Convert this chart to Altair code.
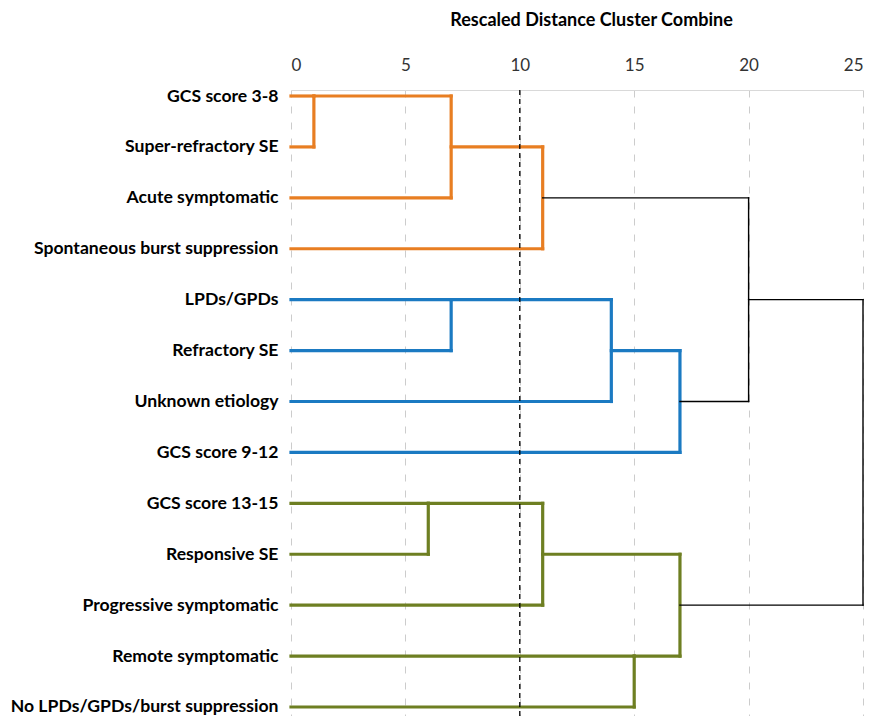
import altair as alt
import pandas as pd

# ---- data ----
leaf_names = [
    "GCS score 3-8",
    "Super-refractory SE",
    "Acute symptomatic",
    "Spontaneous burst suppression",
    "LPDs/GPDs",
    "Refractory SE",
    "Unknown etiology",
    "GCS score 9-12",
    "GCS score 13-15",
    "Responsive SE",
    "Progressive symptomatic",
    "Remote symptomatic",
    "No LPDs/GPDs/burst suppression",
]
# merges: node ids 0..12 are leaves, merge k creates node 13+k
merge_left = [0, 13, 14, 4, 16, 17, 15, 8, 20, 11, 21, 19]
merge_right = [1, 2, 3, 5, 6, 7, 18, 9, 10, 12, 22, 23]
merge_dist = [1, 7, 11, 7, 14, 17, 20, 6, 11, 15, 17, 25]
merge_group = ["A", "A", "A", "B", "B", "B", "link", "C", "C", "C", "C", "link"]
x_ticks = [0, 5, 10, 15, 20, 25]
cutoff = [10]

# ---- build dendrogram segments from merges ----
node_x = [0.0] * len(leaf_names)
node_row = [float(i) for i in range(len(leaf_names))]
rows = []
for a, b, d, g in zip(merge_left, merge_right, merge_dist, merge_group):
    for c in (a, b):
        rows.append(dict(x=node_x[c], x2=d, y=node_row[c], y2=node_row[c], g=g))
    rows.append(dict(x=d, x2=d, y=node_row[a], y2=node_row[b], g=g))
    node_x.append(d)
    node_row.append(float(int((node_row[a] + node_row[b]) // 2)))
seg = pd.DataFrame(rows)

label_expr = "[" + ",".join('"%s"' % n for n in leaf_names) + "][datum.value]"

x_scale = alt.Scale(domain=[0, 25], nice=False, zero=False)
y_scale = alt.Scale(domain=[-0.118, 12.177], reverse=True, nice=False, zero=False)

x_axis = alt.Axis(
    orient="top",
    values=x_ticks,
    title="Rescaled Distance Cluster Combine",
    titleFont="Lato",
    titleFontSize=18,
    titleFontWeight="bold",
    titleColor="#000000",
    titlePadding=27,
    titleX=300,
    titleAlign="center",
    labelFont="Lato",
    labelFontSize=17,
    labelColor="#333333",
    labelPadding=16,
    ticks=False,
    tickSize=0,
    domain=True,
    domainColor="#d9d9d9",
    grid=True,
    gridColor="#cccccc",
    gridDash=[7, 9],
    gridWidth=1,
)
y_axis = alt.Axis(
    values=list(range(len(leaf_names))),
    labelExpr=label_expr,
    title=None,
    grid=False,
    domain=False,
    ticks=False,
    labelFont="Lato",
    labelFontSize=17.6,
    labelFontWeight="bold",
    labelColor="#000000",
    labelPadding=13,
    labelLimit=400,
)

color_scale = alt.Scale(
    domain=["A", "B", "C", "link"],
    range=["#E87E22", "#1B7AC2", "#6E7F22", "#000000"],
)

base = alt.Chart(seg).encode(
    x=alt.X("x:Q", scale=x_scale, axis=x_axis),
    x2="x2:Q",
    y=alt.Y("y:Q", scale=y_scale, axis=y_axis),
    y2="y2:Q",
    color=alt.Color("g:N", scale=color_scale, legend=None),
)

colored = base.transform_filter(alt.datum.g != "link").mark_rule(
    strokeCap="square", strokeWidth=3.2
)
links = base.transform_filter(alt.datum.g == "link").mark_rule(
    strokeCap="square", strokeWidth=1.4
)

cut = (
    alt.Chart(pd.DataFrame({"c": cutoff}))
    .mark_rule(color="#000000", strokeDash=[5, 4], strokeWidth=1.3)
    .encode(x=alt.X("c:Q", scale=x_scale))
)

chart = (
    alt.layer(colored, links, cut)
    .properties(
        width=572,
        height=626,
        autosize=alt.AutoSizeParams(type="none"),
        padding={"left": 283, "top": 82, "right": 6, "bottom": 0},
    )
    .configure_view(stroke=None)
)

chart.save("out.html", embed_options={"renderer": "svg", "actions": False})
